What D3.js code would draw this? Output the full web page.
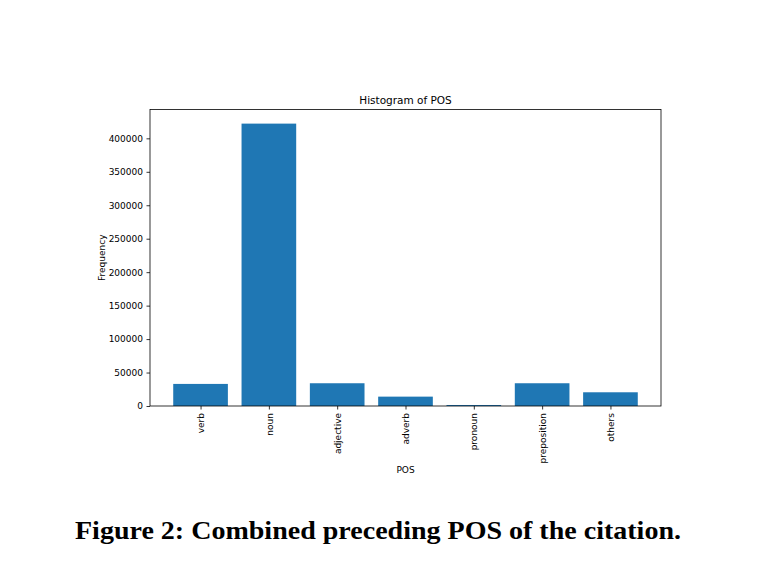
<!DOCTYPE html>
<html>
<head>
<meta charset="utf-8">
<script src="https://cdn.jsdelivr.net/npm/d3@7"></script>
<style>
  body { margin: 0; background: #fff; }
  svg { display: block; }
</style>
</head>
<body>
<div id="canvas"></div>
<script>
"use strict"

// data
let posLabels = ["verb", "noun", "adjective", "adverb", "pronoun", "preposition", "others"];
let posCounts = [33000, 422000, 34000, 14000, 1500, 34000, 20500];
let yTicks = [0, 50000, 100000, 150000, 200000, 250000, 300000, 350000, 400000];

let svgWidth = 758;
let svgHeight = 572;

// axes box
let axLeft = 150, axRight = 661, axTop = 109.5, axBottom = 406;

let svg = d3.select("#canvas")
    .append("svg")
    .attr("width", svgWidth)
    .attr("height", svgHeight);

// matplotlib style: bars of width 0.8, 5% margin on both sides
let n = posLabels.length;
let pad = 0.05 * (n - 1 + 0.8);
let xScale = d3.scaleLinear()
    .domain([-0.4 - pad, n - 1 + 0.4 + pad])
    .range([axLeft, axRight]);

let yScale = d3.scaleLinear()
    .domain([0, d3.max(posCounts) * 1.05])
    .range([axBottom, axTop]);

let barW = xScale(0.8) - xScale(0);

// bars
svg.selectAll(".bar")
    .data(posCounts)
    .join("rect")
    .attr("class", "bar")
    .attr("x", function (d, i) { return xScale(i) - barW / 2; })
    .attr("y", function (d) { return yScale(d); })
    .attr("width", barW)
    .attr("height", function (d) { return axBottom - yScale(d); })
    .attr("fill", "#1f77b4");

// frame
svg.append("rect")
    .attr("x", axLeft)
    .attr("y", axTop)
    .attr("width", axRight - axLeft)
    .attr("height", axBottom - axTop)
    .attr("fill", "none")
    .attr("stroke", "#000")
    .attr("stroke-width", 0.8);

let tickFont = "DejaVu Sans, sans-serif";

// y ticks
let yAxis = d3.axisLeft(yScale)
    .tickValues(yTicks)
    .tickFormat(d3.format("d"))
    .tickSize(3.5)
    .tickPadding(3.5);

let gy = svg.append("g")
    .attr("transform", "translate(" + axLeft + ",0)")
    .call(yAxis);
gy.select(".domain").remove();
gy.selectAll("line").attr("stroke", "#000").attr("stroke-width", 0.8);
gy.selectAll("text")
    .attr("fill", "#000")
    .style("font-family", tickFont)
    .style("font-size", "9px");

// x ticks (rotated labels)
let xAxis = d3.axisBottom(xScale)
    .tickValues(d3.range(n))
    .tickFormat(function (i) { return posLabels[i]; })
    .tickSize(3.5);

let gx = svg.append("g")
    .attr("transform", "translate(0," + axBottom + ")")
    .call(xAxis);
gx.select(".domain").remove();
gx.selectAll("line").attr("stroke", "#000").attr("stroke-width", 0.8);
gx.selectAll("text")
    .attr("fill", "#000")
    .attr("transform", "rotate(-90)")
    .attr("x", -7)
    .attr("y", 0)
    .attr("dy", "0.35em")
    .style("text-anchor", "end")
    .style("font-family", tickFont)
    .style("font-size", "9px");

// title and axis labels
svg.append("text")
    .attr("x", (axLeft + axRight) / 2)
    .attr("y", 104)
    .style("text-anchor", "middle")
    .style("font-family", tickFont)
    .style("font-size", "10.5px")
    .text("Histogram of POS");

svg.append("text")
    .attr("x", (axLeft + axRight) / 2)
    .attr("y", 473)
    .style("text-anchor", "middle")
    .style("font-family", tickFont)
    .style("font-size", "9px")
    .text("POS");

svg.append("text")
    .attr("transform", "translate(104.5," + (axTop + axBottom) / 2 + ") rotate(-90)")
    .style("text-anchor", "middle")
    .style("font-family", tickFont)
    .style("font-size", "9px")
    .text("Frequency");

// figure caption (stretched to the width of the original serif face)
svg.append("text")
    .attr("x", 75)
    .attr("y", 539)
    .attr("textLength", 606)
    .attr("lengthAdjust", "spacingAndGlyphs")
    .style("font-family", "Liberation Serif, serif")
    .style("font-weight", "bold")
    .style("font-size", "25.5px")
    .text("Figure 2: Combined preceding POS of the citation.");
</script>
</body>
</html>
